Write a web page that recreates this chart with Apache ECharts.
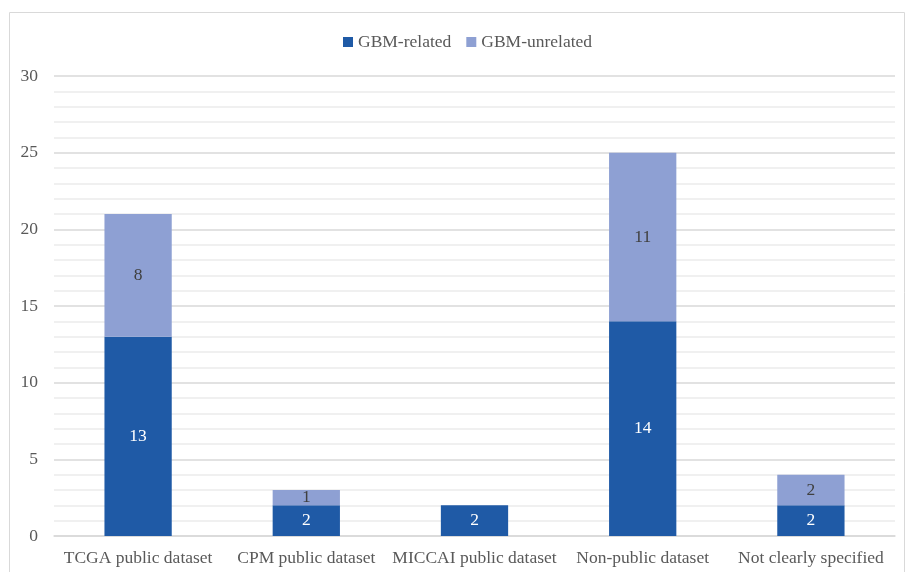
<!DOCTYPE html>
<html>
<head>
<meta charset="utf-8">
<script src="https://cdn.jsdelivr.net/npm/echarts@6/dist/echarts.min.js"></script>
<style>
  html, body { margin: 0; padding: 0; background: #fff; }
  #chart { width: 906px; height: 572px; }
</style>
</head>
<body>
<div id="chart"></div>
<script>
// Dataset categories and counts per group
const categories = ['TCGA public dataset', 'CPM public dataset', 'MICCAI public dataset', 'Non-public dataset', 'Not clearly specified'];
const gbmRelated = [13, 2, 2, 14, 2];
const gbmUnrelated = [8, 1, null, 11, 2];
const yTicks = { min: 0, max: 30, interval: 5 };

const FONT = '"Liberation Serif", "Times New Roman", serif';
const FS = 17.5;

const chart = echarts.init(document.getElementById('chart'));
chart.setOption({
  animation: false,
  textStyle: { fontFamily: FONT },
  graphic: [{
    type: 'rect',
    shape: { x: 9.5, y: 12.5, width: 895, height: 580 },
    style: { fill: 'none', stroke: '#d9d9d9', lineWidth: 1 },
    silent: true
  }],
  legend: {
    top: 28,
    left: 338,
    itemWidth: 10,
    itemHeight: 10,
    itemGap: 15,
    icon: 'rect',
    textStyle: { fontFamily: FONT, fontSize: FS, color: '#595959' },
    data: ['GBM-related', 'GBM-unrelated']
  },
  grid: { left: 54, right: 11, top: 76, bottom: 36, containLabel: false },
  xAxis: {
    type: 'category',
    data: categories,
    axisLine: { show: true, lineStyle: { color: '#d9d9d9', width: 1.5 } },
    axisTick: { show: false },
    axisLabel: { fontFamily: FONT, fontSize: FS, color: '#595959', margin: 13, interval: 0 }
  },
  yAxis: {
    type: 'value',
    min: yTicks.min,
    max: yTicks.max,
    interval: yTicks.interval,
    axisLine: { show: false },
    axisTick: { show: false },
    axisLabel: { fontFamily: FONT, fontSize: FS, color: '#595959', margin: 16 },
    splitLine: { lineStyle: { color: '#d9d9d9', width: 1.5 } },
    minorTick: { show: false, splitNumber: 5 },
    minorSplitLine: { show: true, lineStyle: { color: '#ececec', width: 1.5 } }
  },
  series: [
    {
      name: 'GBM-related',
      type: 'bar',
      stack: 'total',
      barWidth: '40%',
      data: gbmRelated,
      itemStyle: { color: '#1f5aa6' },
      label: { show: true, position: 'inside', color: '#ffffff', fontFamily: FONT, fontSize: FS }
    },
    {
      name: 'GBM-unrelated',
      type: 'bar',
      stack: 'total',
      barWidth: '40%',
      data: gbmUnrelated,
      itemStyle: { color: '#8ea0d3' },
      label: { show: true, position: 'inside', color: '#404040', fontFamily: FONT, fontSize: FS }
    }
  ]
});
</script>
</body>
</html>
